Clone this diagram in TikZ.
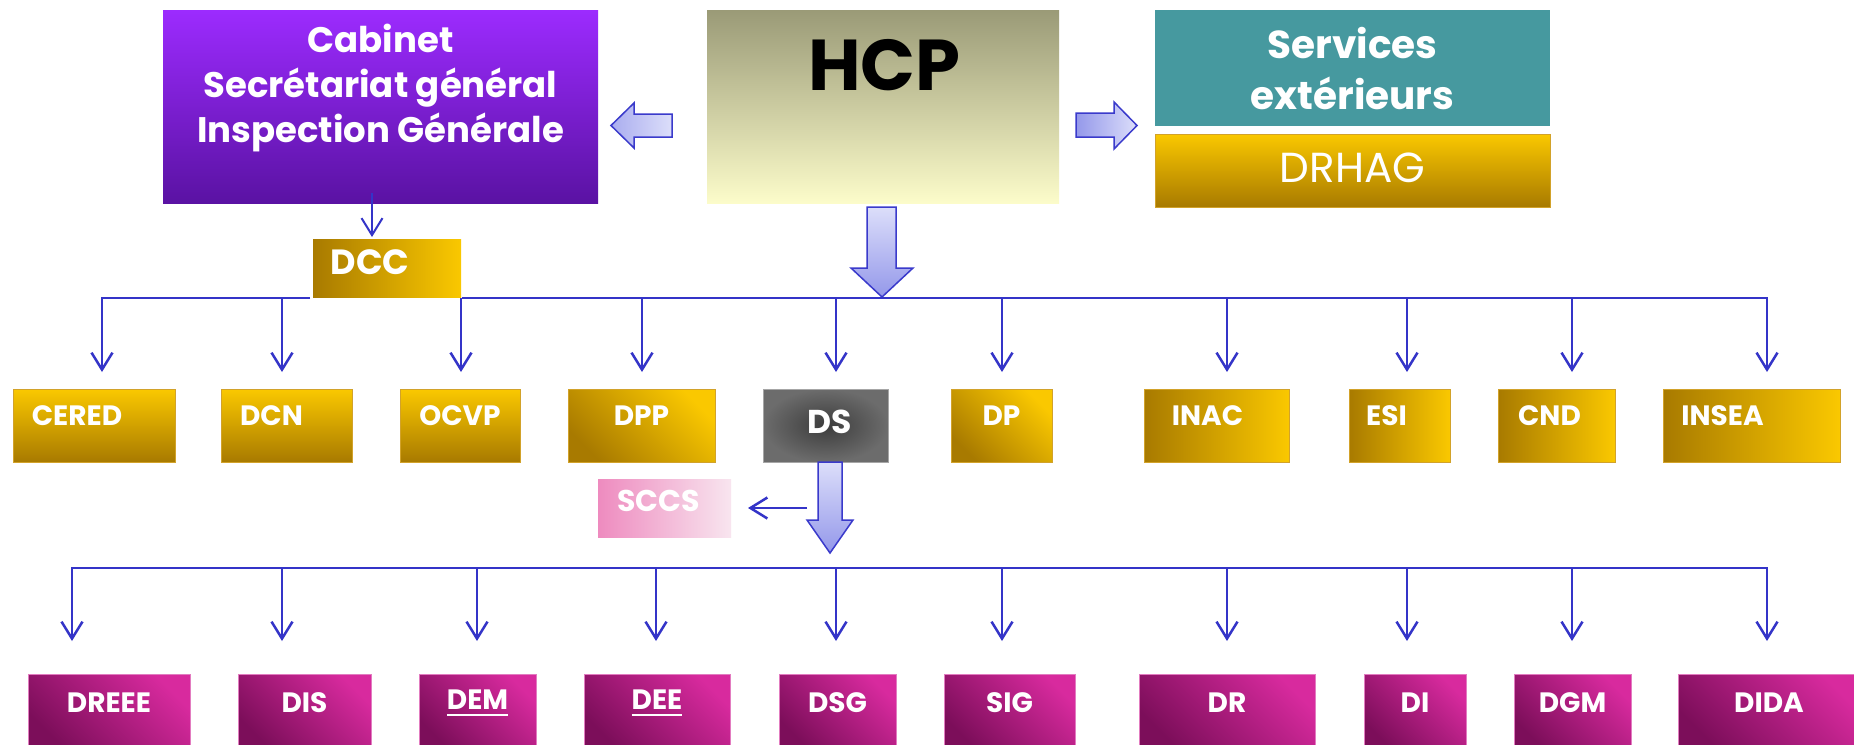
\documentclass[tikz,border=0pt]{standalone}
\usepackage{fontspec}
\setmainfont{Poppins}
\usetikzlibrary{arrows.meta}
\definecolor{gold}{HTML}{FAC800}
\definecolor{golddark}{HTML}{A87A00}
\definecolor{goldedge}{HTML}{D2A22A}
\definecolor{magb}{HTML}{D82A9E}
\definecolor{magd}{HTML}{7C0E5A}
\definecolor{magedge}{HTML}{E27CC0}
\definecolor{purtop}{HTML}{9C2BFE}
\definecolor{purbot}{HTML}{5A12A3}
\definecolor{hcptop}{HTML}{9A9A77}
\definecolor{hcpbot}{HTML}{FCFCCA}
\definecolor{tealbox}{HTML}{46999F}
\definecolor{dsin}{HTML}{3C3C3C}
\definecolor{dsout}{HTML}{6C6C6C}
\definecolor{pinkl}{HTML}{EE8BBF}
\definecolor{pinkr}{HTML}{F8E5EF}
\definecolor{linkblue}{HTML}{3434C8}
\definecolor{arrowedge}{HTML}{3A3ACB}
\definecolor{abdark}{HTML}{9498EA}
\definecolor{ablight}{HTML}{DCDEFA}
\newcommand\fsz[2]{\fontsize{#1}{#2}\selectfont}
\newcommand\myul[1]{\setbox0=\hbox{#1}\leavevmode\rlap{\vrule width\wd0 height -4pt depth 6.5pt}\box0}
\newcommand\rb[8]{\node[#2, minimum width={(#5)-(#3)}, minimum height={(#6)-(#4)}, label={[#7]center:{#8}}] (#1) at ({(#3+#5)/2},{(#4+#6)/2}) {};}
\tikzset{
  box/.style={rectangle, inner sep=0pt, outer sep=0pt},
  gv/.style={box, top color=gold, bottom color=golddark, draw=goldedge, line width=0.8pt},
  gh/.style={box, left color=golddark, right color=gold, draw=goldedge, line width=0.8pt},
  gd/.style={box, top color=gold, bottom color=golddark, shading angle=-45, draw=goldedge, line width=0.8pt},
  mg/.style={box, top color=magb, bottom color=magd, shading angle=-45, draw=magedge, line width=0.8pt},
  purplebox/.style={box, top color=purtop, bottom color=purbot},
  hcpbox/.style={box, top color=hcptop, bottom color=hcpbot},
  tealb/.style={box, fill=tealbox},
  dsbox/.style={box, inner color=dsin, outer color=dsout, draw=gray!70, line width=0.8pt},
  pinkbox/.style={box, left color=pinkl, right color=pinkr},
  lbl/.style={text=white, font=\bfseries\fsz{28}{32}},
  big/.style={text=white, font=\bfseries\fsz{35.5}{45}, align=center},
  conn/.style={draw=linkblue, line width=2.5pt, -{Straight Barb[length=17pt,width=21pt]}},
  conn2/.style={draw=linkblue, line width=2.5pt, {Straight Barb[length=17pt,width=21pt]}-{Straight Barb[length=17pt,width=21pt]}},
  blockarrow/.style={draw=arrowedge, line width=1.5pt, line join=miter},
}
\begin{document}
\begin{tikzpicture}[x=1pt, y=-1pt]
\useasboundingbox (0,0) rectangle (1854,744);
\fill[white] (0,0) rectangle (1854,744);
% top row
\rb{cab}{purplebox}{163}{10}{598}{203}{big, yshift=18pt}{Cabinet\\Secrétariat général\\Inspection Générale}
\rb{hcp}{hcpbox}{707}{10}{1059}{203}{text=black, font=\bfseries\fsz{72}{80}, xshift=1.5pt, yshift=41pt}{HCP}
\rb{serv}{tealb}{1155}{10}{1550}{126}{big, font=\bfseries\fsz{39}{51}, yshift=-1pt}{Services\\extérieurs}
\rb{drhag}{gv}{1155}{134}{1550}{207}{text=white, font=\fsz{42}{48}, yshift=3pt}{DRHAG}
\rb{dcc}{gh, draw=none}{313}{239}{461}{297}{lbl, font=\bfseries\fsz{35}{40}, xshift=-17pt, yshift=6pt}{DCC}
% block arrows
\draw[blockarrow, left color=abdark!70!ablight, right color=ablight] (611,125.5) -- (634,103) -- (634,114) -- (672,114) -- (672,137) -- (634,137) -- (634,148) -- cycle;
\draw[blockarrow, left color=abdark, right color=ablight] (1076,113) -- (1114,113) -- (1114,102) -- (1137,125.5) -- (1114,149) -- (1114,137) -- (1076,137) -- cycle;
\draw[blockarrow, top color=ablight, bottom color=abdark] (867,207) -- (896,207) -- (896,268) -- (913,268) -- (882,297) -- (851,268) -- (867,268) -- cycle;
\draw[conn, line width=2pt] (372,193) -- (372,237);
% bus 1
\draw[conn] (310,298) -- (102,298) -- (102,372);
\draw[conn] (462,298) -- (1767,298) -- (1767,372);
\foreach \x in {282,461,642,836,1002,1227,1407,1572} \draw[conn] (\x,298) -- (\x,372);
% row 1
\rb{cered}{gv}{13}{389}{175}{462}{lbl, xshift=-17pt, yshift=10pt}{CERED}
\rb{dcn}{gv}{221}{389}{352}{462}{lbl, xshift=-15pt, yshift=10pt}{DCN}
\rb{ocvp}{gv}{400}{389}{520}{462}{lbl, yshift=10pt}{OCVP}
\rb{dpp}{gd}{568}{389}{715}{462}{lbl, yshift=10pt}{DPP}
\rb{ds}{dsbox}{763}{389}{888}{462}{lbl, font=\bfseries\fsz{33}{38}, xshift=4pt, yshift=4pt}{DS}
\rb{dp}{gd}{951}{389}{1052}{462}{lbl, yshift=10pt}{DP}
\rb{inac}{gh}{1144}{389}{1289}{462}{lbl, xshift=-9pt, yshift=10pt}{INAC}
\rb{esi}{gh}{1349}{389}{1450}{462}{lbl, xshift=-13pt, yshift=10pt}{ESI}
\rb{cnd}{gh}{1498}{389}{1615}{462}{lbl, xshift=-7pt, yshift=10pt}{CND}
\rb{insea}{gh}{1663}{389}{1840}{462}{lbl, xshift=-29pt, yshift=10pt}{INSEA}
% DS -> SCCS and down
\rb{sccs}{pinkbox}{598}{479}{731}{537}{lbl, font=\bfseries\fsz{30}{34}, xshift=-6pt, yshift=7pt}{SCCS}
\draw[blockarrow, top color=ablight, bottom color=abdark] (818,462) -- (842,462) -- (842,520) -- (853,520) -- (830,553) -- (807,520) -- (818,520) -- cycle;
\draw[conn] (807,508) -- ([xshift=17pt]sccs.east);
% bus 2
\draw[conn2] (72,641) -- (72,568) -- (1767,568) -- (1767,641);
\foreach \x in {282,477,656,836,1002,1227,1407,1572} \draw[conn] (\x,568) -- (\x,641);
% row 2
\rb{dreee}{mg}{28}{674}{190}{748}{lbl, yshift=8pt}{DREEE}
\rb{dis}{mg}{238}{674}{371}{748}{lbl, yshift=8pt}{DIS}
\rb{dem}{mg}{419}{674}{536}{748}{lbl, yshift=8pt}{\myul{DEM}}
\rb{dee}{mg}{584}{674}{730}{748}{lbl, yshift=8pt}{\myul{DEE}}
\rb{dsg}{mg}{779}{674}{896}{748}{lbl, yshift=8pt}{DSG}
\rb{sig}{mg}{944}{674}{1075}{748}{lbl, yshift=8pt}{SIG}
\rb{dr}{mg}{1139}{674}{1315}{748}{lbl, yshift=8pt}{DR}
\rb{di}{mg}{1364}{674}{1466}{748}{lbl, yshift=8pt}{DI}
\rb{dgm}{mg}{1514}{674}{1631}{748}{lbl, yshift=8pt}{DGM}
\rb{dida}{mg}{1678}{674}{1860}{748}{lbl, yshift=8pt}{DIDA}
\end{tikzpicture}
\end{document}
